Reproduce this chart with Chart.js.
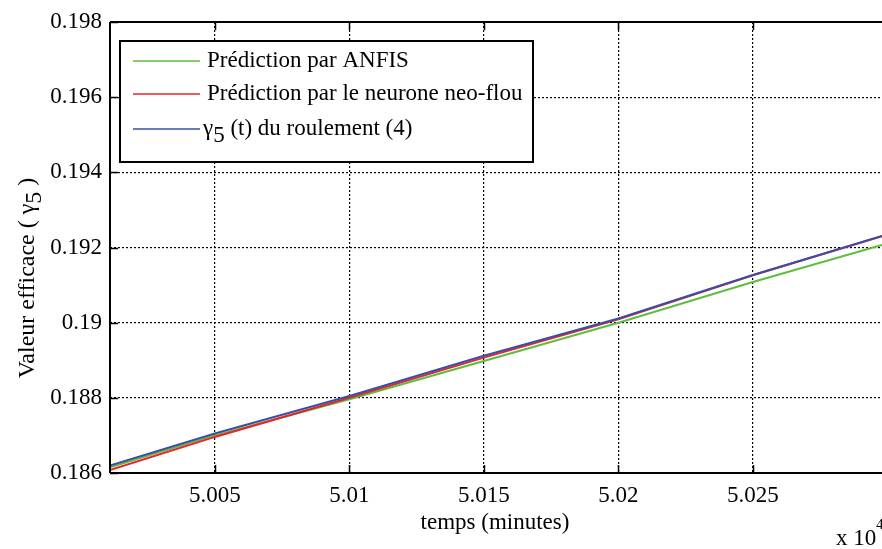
<!DOCTYPE html>
<html>
<head>
<meta charset="utf-8">
<script src="https://cdn.jsdelivr.net/npm/chart.js@4/dist/chart.umd.min.js"></script>
<style>
  html, body { margin: 0; padding: 0; background: #fff; }
  #wrap { width: 882px; height: 549px; }
</style>
</head>
<body>
<div id="wrap"><canvas id="c" width="882" height="549"></canvas></div>
<script>
// temps (minutes)
const times = [50011, 50050, 50100, 50150, 50200, 50250, 50298]
const anfis = [0.18615, 0.18700, 0.18796, 0.18898, 0.19000, 0.19108, 0.19207]
const neoFlou = [0.18608, 0.18696, 0.18800, 0.18907, 0.19009, 0.19126, 0.19230]
const roulement = [0.18620, 0.18705, 0.18805, 0.18912, 0.19011, 0.19127, 0.19231]

const xTicks = [50050, 50100, 50150, 50200, 50250]
const yTicks = [0.186, 0.188, 0.19, 0.192, 0.194, 0.196, 0.198]

const legendLabels = ["Prédiction par ANFIS", "Prédiction par le neurone neo-flou", "γ5 (t) du roulement (4)"]

const FONT = "'Liberation Serif', 'Times New Roman', serif"
const pts = (ys) => times.map((t, i) => ({ x: t, y: ys[i] }))

// frame, inward ticks, legend box and axis texts (MATLAB look)
const decor = {
  id: "decor",
  afterDatasetsDraw(chart) {
    const { ctx, chartArea: a, scales } = chart
    ctx.save()
    ctx.strokeStyle = "#000"
    ctx.lineWidth = 2
    ctx.beginPath()
    ctx.moveTo(a.left, a.top); ctx.lineTo(a.right, a.top)
    ctx.moveTo(a.left, a.top); ctx.lineTo(a.left, a.bottom)
    ctx.moveTo(a.left, a.bottom); ctx.lineTo(a.right, a.bottom)
    ctx.stroke()

    ctx.lineWidth = 1.5
    ctx.beginPath()
    yTicks.forEach(v => {
      const y = Math.round(scales.y.getPixelForValue(v)) + 0.5
      ctx.moveTo(a.left, y); ctx.lineTo(a.left + 8, y)
    })
    xTicks.forEach(v => {
      const x = Math.round(scales.x.getPixelForValue(v)) + 0.5
      ctx.moveTo(x, a.bottom); ctx.lineTo(x, a.bottom - 8)
      ctx.moveTo(x, a.top); ctx.lineTo(x, a.top + 8)
    })
    ctx.stroke()

    // legend
    const lx = 120, ly = 41, lw = 413, lh = 121
    ctx.fillStyle = "#fff"
    ctx.fillRect(lx, ly, lw, lh)
    ctx.lineWidth = 2
    ctx.strokeRect(lx, ly, lw, lh)
    const rows = [61, 94, 129]
    ctx.font = "23px " + FONT
    ctx.textBaseline = "middle"
    ctx.textAlign = "left"
    chart.data.datasets.forEach((ds, i) => {
      const y = rows[i]
      ctx.strokeStyle = ds.borderColor
      ctx.lineWidth = 1.5
      ctx.beginPath(); ctx.moveTo(133, y); ctx.lineTo(200, y); ctx.stroke()
      ctx.fillStyle = "#000"
      const label = legendLabels[i]
      if (label.startsWith("γ5")) {
        ctx.fillText("γ", 203, y)
        const gw = ctx.measureText("γ").width
        ctx.fillText("5", 203 + gw, y + 7)
        const fw = ctx.measureText("5").width
        ctx.fillText(label.slice(2), 203 + gw + fw, y)
      } else {
        ctx.fillText(label, 207, y)
      }
    })

    // axis titles
    ctx.fillStyle = "#000"
    ctx.font = "23px " + FONT
    ctx.textAlign = "center"
    ctx.textBaseline = "middle"
    ctx.fillText("temps (minutes)", 495, 523)

    ctx.textAlign = "left"
    ctx.textBaseline = "alphabetic"
    ctx.fillText("x 10", 836, 545)
    ctx.font = "15px " + FONT
    ctx.fillText("4", 876, 529)

    ctx.save()
    ctx.translate(28, 278)
    ctx.rotate(-Math.PI / 2)
    ctx.font = "24px " + FONT
    ctx.textBaseline = "middle"
    const p1 = "Valeur efficace ( γ", p2 = "5", p3 = " )"
    const w1 = ctx.measureText(p1).width, w2 = ctx.measureText(p2).width, w3 = ctx.measureText(p3).width
    let x0 = -(w1 + w2 + w3) / 2
    ctx.textAlign = "left"
    ctx.fillText(p1, x0, 0)
    ctx.fillText(p2, x0 + w1, 7)
    ctx.fillText(p3, x0 + w1 + w2, 0)
    ctx.restore()

    ctx.restore()
  }
}

new Chart(document.getElementById("c"), {
  type: "line",
  data: {
    datasets: [
      { label: legendLabels[0], data: pts(anfis), borderColor: "#5cbf3c", borderWidth: 2, order: 2 },
      { label: legendLabels[1], data: pts(neoFlou), borderColor: "#e8242a", borderWidth: 2, order: 1 },
      { label: legendLabels[2], data: pts(roulement), borderColor: "#3a4ea6", borderWidth: 2, order: 0 },
    ]
  },
  options: {
    responsive: false,
    animation: false,
    events: [],
    elements: { point: { radius: 0 }, line: { tension: 0 } },
    layout: { padding: { top: 22, right: 0, left: 0, bottom: 0 } },
    plugins: { legend: { display: false }, tooltip: { enabled: false } },
    scales: {
      x: {
        type: "linear",
        min: 50011,
        max: 50298,
        afterBuildTicks: (s) => { s.ticks = xTicks.map(v => ({ value: v })) },
        afterFit: (s) => { s.height = 76 },
        grid: { color: "#000", lineWidth: 1.2, drawTicks: false },
        border: { display: false, dash: [2, 2] },
        ticks: {
          padding: 9,
          color: "#000",
          font: { family: FONT, size: 23 },
          maxRotation: 0,
          callback: (v) => String(+(v / 1e4).toFixed(4)),
        },
      },
      y: {
        min: 0.186,
        max: 0.198,
        afterBuildTicks: (s) => { s.ticks = yTicks.map(v => ({ value: v })) },
        afterFit: (s) => { s.width = 110 },
        grid: { color: "#000", lineWidth: 1.2, drawTicks: false },
        border: { display: false, dash: [2, 2] },
        ticks: {
          padding: 8,
          color: "#000",
          font: { family: FONT, size: 23 },
          callback: (v) => String(+v.toFixed(3)),
        },
      }
    }
  },
  plugins: [decor]
})
</script>
</body>
</html>
